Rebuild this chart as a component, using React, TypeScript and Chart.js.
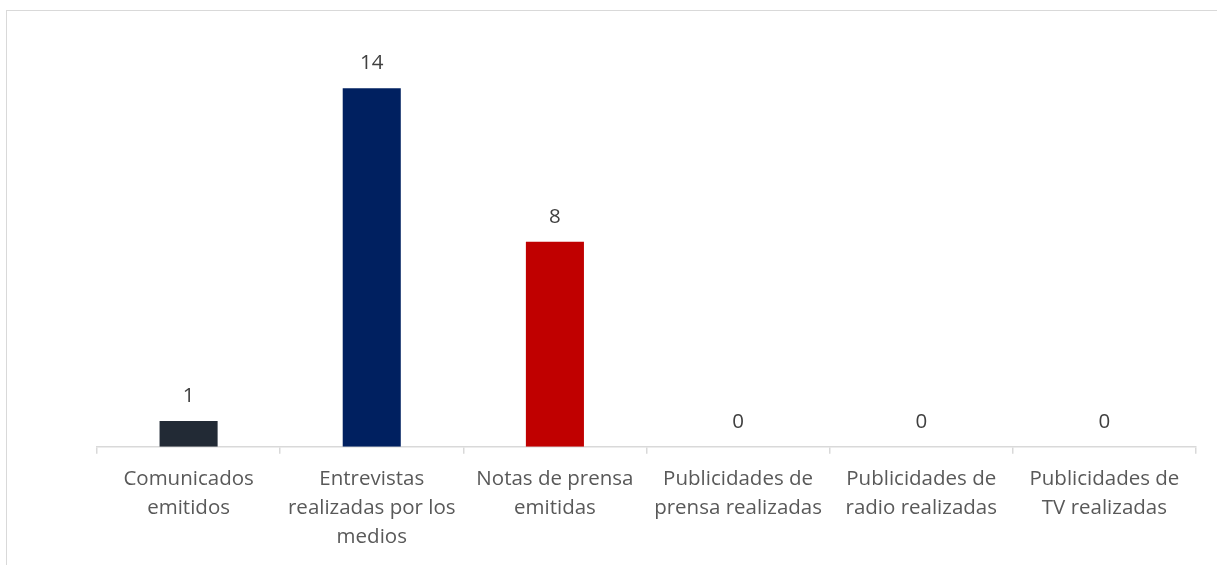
import React, { useEffect, useRef } from "react";
import { Chart, registerables } from "chart.js";

Chart.register(...registerables);

const categories: string[][] = [
  ["Comunicados", "emitidos"],
  ["Entrevistas", "realizadas por los", "medios"],
  ["Notas de prensa", "emitidas"],
  ["Publicidades de", "prensa realizadas"],
  ["Publicidades de", "radio realizadas"],
  ["Publicidades de", "TV realizadas"],
];
const values: number[] = [1, 14, 8, 0, 0, 0];
const barColors: string[] = ["#222a35", "#002060", "#c00000", "#a5a5a5", "#ffc000", "#4472c4"];
const yMax = 16;

const FONT = "'Open Sans', sans-serif";

const dataLabelPlugin = {
  id: "dataLabels",
  afterDatasetsDraw(chart: any) {
    const ctx = chart.ctx;
    const meta = chart.getDatasetMeta(0);
    ctx.save();
    ctx.font = `20.5px ${FONT}`;
    ctx.fillStyle = "#404040";
    ctx.textAlign = "center";
    ctx.textBaseline = "middle";
    meta.data.forEach((bar: any, i: number) => {
      ctx.fillText(String(values[i]), bar.x, bar.y - 25);
    });
    ctx.restore();
  },
};

export default function App() {
  const ref = useRef<HTMLCanvasElement | null>(null);
  useEffect(() => {
    if (!ref.current) return;
    const chart = new Chart(ref.current, {
      type: "bar",
      data: {
        labels: categories,
        datasets: [
          {
            data: values,
            backgroundColor: barColors,
            categoryPercentage: 1,
            barPercentage: 0.317,
          },
        ],
      },
      options: {
        animation: false,
        responsive: false,
        maintainAspectRatio: false,
        layout: { padding: { left: 97, right: 21, top: 37, bottom: 2 } },
        plugins: { legend: { display: false }, tooltip: { enabled: false } },
        scales: {
          x: {
            offset: true,
            grid: {
              display: true,
              offset: true,
              drawOnChartArea: false,
              drawTicks: true,
              tickLength: 7,
              color: "#d9d9d9",
              lineWidth: 1.5,
            },
            border: { display: true, color: "#d9d9d9", width: 1.5 },
            ticks: {
              color: "#595959",
              font: { family: FONT, size: 20.5, lineHeight: 1.42 },
              padding: 11,
              maxRotation: 0,
              autoSkip: false,
            },
          },
          y: { display: false, min: 0, max: yMax },
        },
      },
      plugins: [dataLabelPlugin],
    });
    return () => chart.destroy();
  }, []);
  return (
    <div style={{ position: "fixed", left: 0, top: 0, width: 1217, height: 565, background: "#fff", overflow: "hidden" }}>
      <div
        style={{
          position: "absolute",
          left: 6,
          top: 10,
          width: 1300,
          height: 700,
          borderTop: "1px solid #d9d9d9",
          borderLeft: "1.5px solid #d9d9d9",
        }}
      />
      <canvas ref={ref} width={1217} height={565} style={{ position: "absolute", left: 0, top: 0, width: 1217, height: 565 }} />
    </div>
  );
}
